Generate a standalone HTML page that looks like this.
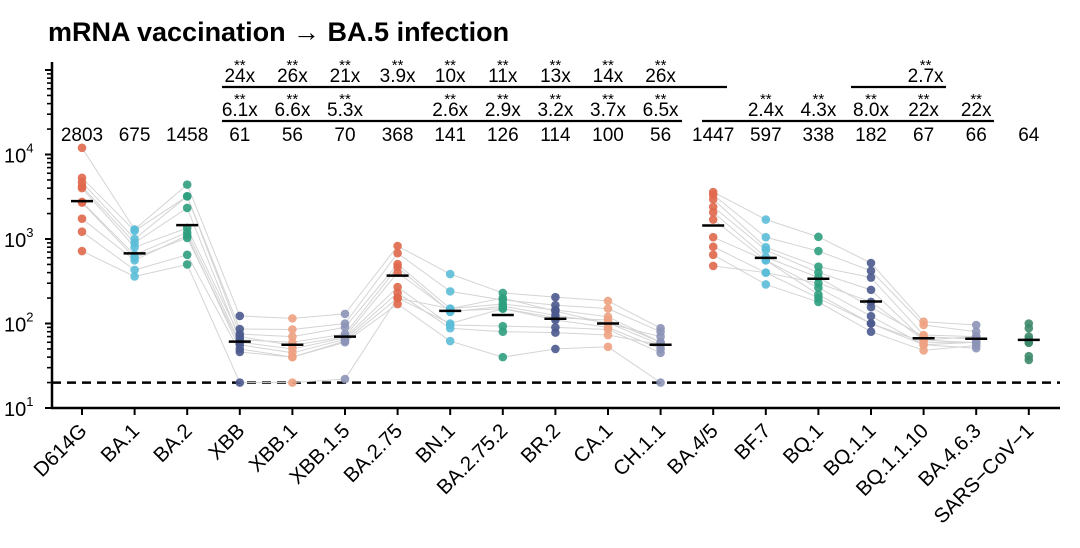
<!DOCTYPE html>
<html><head><meta charset="utf-8"><style>
body{margin:0;background:#fff;}
svg{display:block;font-family:"Liberation Sans",Arial,sans-serif;}
</style></head><body>
<svg id="chart" width="1080" height="548" viewBox="0 0 1080 548" xmlns="http://www.w3.org/2000/svg">
<text x="48" y="41" font-size="27" font-weight="bold">mRNA vaccination → BA.5 infection</text>
<g id="axes"></g><g id="lines"></g><g id="dots"></g><g id="ann"></g>
</svg>
<script>
const categories=["D614G","BA.1","BA.2","XBB","XBB.1","XBB.1.5","BA.2.75","BN.1","BA.2.75.2","BR.2","CA.1","CH.1.1","BA.4/5","BF.7","BQ.1","BQ.1.1","BQ.1.1.10","BA.4.6.3","SARS−CoV−1"];
const gmt=[2803,675,1458,61,56,70,368,141,126,114,100,56,1447,597,338,182,67,66,64];
const cohort=[0,0,0,0,0,0,0,0,0,0,0,0,1,1,1,1,1,1,2];
const v_D614G=[12000,5300,4700,4200,4000,2750,2700,1740,1220,720];
const v_BA1=[1300,1250,1000,900,800,650,600,560,430,360];
const v_BA2=[4400,3200,3200,2330,1350,1200,1030,1100,650,500];
const v_XBB=[123,86,75,64,70,60,56,50,46,20];
const v_XBB1=[115,85,70,60,55,50,45,40,40,20];
const v_XBB15=[130,100,90,75,70,68,65,62,60,22];
const v_BA275=[826,680,505,465,400,270,230,200,170,200];
const v_BN1=[385,240,150,137,140,96,88,150,62,100];
const v_BA2752=[230,190,170,160,150,93,80,200,40,150];
const v_BR2=[205,165,145,125,117,90,78,140,50,110];
const v_CA1=[185,150,120,102,110,85,73,100,53,90];
const v_CH11=[88,80,60,56,60,45,56,70,20,50];
const v_BA45=[3600,3330,2950,2400,2070,1700,1050,810,650,480];
const v_BF7=[1700,1050,800,740,610,560,560,400,290,400];
const v_BQ1=[1060,720,470,400,350,265,220,300,180,200];
const v_BQ11=[520,420,350,250,156,122,100,180,80,100];
const v_BQ1110=[105,96,73,64,70,56,60,64,48,56];
const v_BA463=[96,80,70,59,65,51,60,70,55,60];
const v_SARS=[100,88,70,59,65,41,37,60];
const values=[v_D614G,v_BA1,v_BA2,v_XBB,v_XBB1,v_XBB15,v_BA275,v_BN1,v_BA2752,v_BR2,v_CA1,v_CH11,v_BA45,v_BF7,v_BQ1,v_BQ11,v_BQ1110,v_BA463,v_SARS];
const foldRow1=["24x","26x","21x","3.9x","10x","11x","13x","14x","26x"];
const foldRow2a=["6.1x","6.6x","5.3x","","2.6x","2.9x","3.2x","3.7x","6.5x"];
const foldRow2b=["2.4x","4.3x","8.0x","22x","22x"];
const fold27="2.7x";
const yTickExp=[1,2,3,4];
const limitValue=20;

const colors=["#e0684c","#5bbcd8","#2f9e7f","#4b5a8e","#eea283","#8c93b7"];
const NS="http://www.w3.org/2000/svg";
const X0=82,STEP=52.6,Y10=408,DEC=84.5,AXL=52,AXR=1060;
const xs=i=>X0+i*STEP;
const ys=v=>Y10-(Math.log10(v)-1)*DEC;
function mk(p,tag,at,txt){const e=document.createElementNS(NS,tag);for(const k in at)e.setAttribute(k,at[k]);if(txt!==undefined)e.textContent=txt;p.appendChild(e);return e;}
const axes=document.getElementById('axes'),lines=document.getElementById('lines'),dots=document.getElementById('dots'),ann=document.getElementById('ann');

let a=mk(axes,'line',{x1:AXL,y1:62,x2:AXL,y2:Y10,stroke:'#000','stroke-width':2.5});


a=mk(axes,'line',{x1:AXL-1,y1:Y10,x2:AXR,y2:Y10,stroke:'#000','stroke-width':2.5});


for(let d=1;d<5;d++){for(let m=1;m<10;m++){const v=Math.pow(10,d)*m;const y=ys(v);if(y<62)continue;
 const t=mk(axes,'line',{x1:AXL-(m==1?7:5),y1:y,x2:AXL,y2:y,stroke:'#000','stroke-width':m==1?2:1.6});
 
 }}
mk(axes,'line',{x1:AXL-7,y1:ys(1e5),x2:AXL,y2:ys(1e5),stroke:'#000','stroke-width':2});
yTickExp.forEach(e=>{const t=mk(axes,'text',{x:4,y:ys(Math.pow(10,e))+8,'font-size':20});
 
 
 mk(t,'tspan',{},'10');mk(t,'tspan',{dy:-10,'font-size':13},String(e));});
a=mk(axes,'line',{x1:AXL,y1:ys(limitValue),x2:AXR,y2:ys(limitValue),stroke:'#000','stroke-width':2.5,'stroke-dasharray':'9,6'});



categories.forEach((c,i)=>{const x=xs(i);
 const t=mk(axes,'line',{x1:x,y1:Y10,x2:x,y2:Y10+7,stroke:'#000','stroke-width':2});
 
 
 const l=mk(axes,'text',{x:x+6,y:Y10+24,'font-size':20.5,'text-anchor':'end',transform:`rotate(-45 ${x+6} ${Y10+24})`},c);
 
 
 const g=mk(ann,'text',{x:x,y:141,'font-size':19,'text-anchor':'middle'},String(gmt[i]));
 
 
});
for(let i=0;i<categories.length-1;i++){if(cohort[i]!==cohort[i+1])continue;
 const A=values[i],B=values[i+1];for(let k=0;k<Math.min(A.length,B.length);k++){
 const l=mk(lines,'line',{x1:xs(i),y1:ys(A[k]),x2:xs(i+1),y2:ys(B[k]),stroke:'#d4d4d4','stroke-width':1});
 
 }}
values.forEach((arr,i)=>{const col=i==18?'#3d8a6c':colors[i%6];
 arr.forEach(v=>{const c=mk(dots,'circle',{cx:xs(i),cy:ys(v),r:4.3,fill:col,opacity:0.9});
  
  });
 const b=mk(dots,'line',{x1:xs(i)-11,y1:ys(gmt[i]),x2:xs(i)+11,y2:ys(gmt[i]),stroke:'#000','stroke-width':2.5});
 
 });
function fold(x,y,txt,name){if(!txt)return;
 const s=mk(ann,'text',{x:x,y:y-12,'font-size':15,'text-anchor':'middle'},'**');
 
 
 const t=mk(ann,'text',{x:x,y:y,'font-size':19,'text-anchor':'middle'},txt);
 
 }
function bar(x1,x2,y){const l=mk(ann,'line',{x1:x1,y1:y,x2:x2,y2:y,stroke:'#000','stroke-width':2.2});
 
 }
foldRow1.forEach((t,k)=>fold(xs(3+k),82,t,'fold-change-vs-d614g'));
foldRow2a.forEach((t,k)=>fold(xs(3+k),116,t,'fold-change-vs-ancestor'));
foldRow2b.forEach((t,k)=>fold(xs(13+k),116,t,'fold-change-vs-ba45'));
fold(xs(16)+2,82,fold27,'fold-change-bq11');
bar(222,727,87);bar(222,682,121);bar(702,994,121);bar(851,946,87);
</script>
</body></html>
